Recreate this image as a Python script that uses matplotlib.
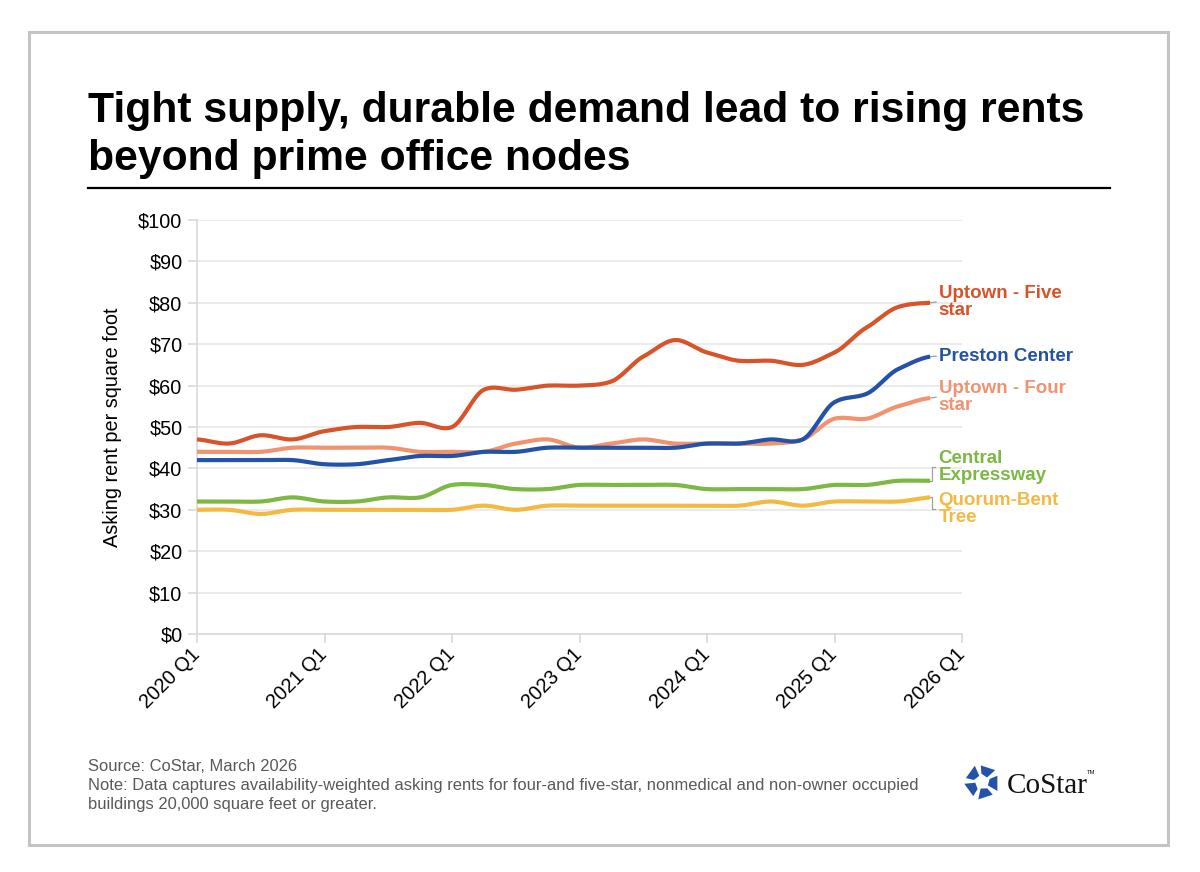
import matplotlib
matplotlib.use("Agg")
import matplotlib.pyplot as plt
import numpy as np
from matplotlib.patches import Rectangle, Polygon
from matplotlib.lines import Line2D

plt.rcParams['font.family'] = ['Liberation Sans', 'DejaVu Sans']

# quarterly asking rents, 2020 Q1 .. 2025 Q4
five_star = [47, 46, 48, 47, 49, 50, 50, 51, 50, 59, 59, 60,
             60, 61, 67, 71, 68, 66, 66, 65, 68, 74, 79, 80]
four_star = [44, 44, 44, 45, 45, 45, 45, 44, 44, 44, 46, 47,
             45, 46, 47, 46, 46, 46, 46, 47, 52, 52, 55, 57]
preston = [42, 42, 42, 42, 41, 41, 42, 43, 43, 44, 44, 45,
           45, 45, 45, 45, 46, 46, 47, 47, 56, 58, 64, 67]
central = [32, 32, 32, 33, 32, 32, 33, 33, 36, 36, 35, 35,
           36, 36, 36, 36, 35, 35, 35, 35, 36, 36, 37, 37]
quorum = [30, 30, 29, 30, 30, 30, 30, 30, 30, 31, 30, 31,
          31, 31, 31, 31, 31, 31, 32, 31, 32, 32, 32, 33]

series_names = ['Uptown - Five\nstar', 'Preston Center', 'Uptown - Four\nstar',
                'Central\nExpressway', 'Quorum-Bent\nTree']
series_values = [five_star, preston, four_star, central, quorum]
series_colors = ['#D9532A', '#2452A8', '#F0936E', '#7CB843', '#F4B942']
draw_order = [4, 3, 2, 1, 0]
label_y = [80.2, 67.1, 57.2, 40.3, 30.2]   # where the end labels sit
bracket = [False, False, False, True, True]

tick_labels = ['2020 Q1', '2021 Q1', '2022 Q1', '2023 Q1', '2024 Q1', '2025 Q1', '2026 Q1']
y_ticks = list(range(0, 101, 10))

W, H = 1200, 872


def smooth(ys, n=20, s=0.8):
    # cardinal spline through the points (like a spreadsheet "smoothed line")
    ys = list(ys)
    m = len(ys)
    tang = []
    for i in range(m):
        a = ys[i - 1] if i > 0 else ys[i]
        b = ys[i + 1] if i + 1 < m else ys[i]
        tang.append(s * (b - a) / 2.0)
    xs_out, ys_out = [], []
    t = np.linspace(0, 1, n, endpoint=False)
    h00 = 2 * t ** 3 - 3 * t ** 2 + 1
    h10 = t ** 3 - 2 * t ** 2 + t
    h01 = -2 * t ** 3 + 3 * t ** 2
    h11 = t ** 3 - t ** 2
    for i in range(m - 1):
        y = h00 * ys[i] + h10 * tang[i] + h01 * ys[i + 1] + h11 * tang[i + 1]
        xs_out.extend(i + t)
        ys_out.extend(y)
    xs_out.append(m - 1)
    ys_out.append(ys[-1])
    return np.array(xs_out), np.array(ys_out)


fig = plt.figure(figsize=(W / 100, H / 100), dpi=100)

# outer frame
fig.patches.append(Rectangle((29 / W, 1 - 845 / H), (1168 - 29) / W, (845 - 32) / H,
                             transform=fig.transFigure, fill=False,
                             edgecolor='#c4c4c4', linewidth=2.2))

# title and rule
fig.text(88 / W, 1 - 122 / H, 'Tight supply, durable demand lead to rising rents',
         fontsize=30.7, fontweight='bold', va='baseline', ha='left')
fig.text(88 / W, 1 - 170 / H, 'beyond prime office nodes',
         fontsize=30.7, fontweight='bold', va='baseline', ha='left')
fig.add_artist(Line2D([88 / W, 1110 / W], [1 - 188 / H, 1 - 188 / H],
                      transform=fig.transFigure, color='black', linewidth=1.6))

ax = fig.add_axes([197 / W, 1 - 634 / H, (962 - 197) / W, (634 - 220) / H])
ax.set_xlim(0, 24)
ax.set_ylim(0, 100)

for k in draw_order:
    sx, sy = smooth(series_values[k])
    ax.plot(sx, sy, color=series_colors[k], linewidth=3, solid_capstyle='butt',
            zorder=3, clip_on=False)

ax.set_yticks(y_ticks)
ax.set_yticklabels(['$%d' % v for v in y_ticks], fontsize=14.3)
ax.set_xticks(range(0, 25, 4))
ax.set_xticklabels(tick_labels, fontsize=14.3, rotation=45, ha='right', va='center',
                   rotation_mode='anchor')
ax.tick_params(axis='both', color='#d9d9d9', length=6.5, width=1.2)
ax.tick_params(axis='y', pad=4)
ax.tick_params(axis='x', pad=6)
ax.grid(axis='y', color='#e8e8e8', linewidth=1.2)
ax.set_axisbelow(True)
for s in ['top', 'right']:
    ax.spines[s].set_visible(False)
for s in ['left', 'bottom']:
    ax.spines[s].set_color('#d9d9d9')
    ax.spines[s].set_linewidth(1.2)

fig.text(112 / W, 1 - 427 / H, 'Asking rent per square foot', rotation=90,
         fontsize=14.3, ha='center', va='center')

# end labels with leader lines
px_q = (962 - 197) / 24.0
x_end = len(five_star) - 1
for name, vals, col, ly, br in zip(series_names, series_values, series_colors, label_y, bracket):
    yv = vals[-1]
    if br:
        xb = x_end + 2 / px_q
        ax.plot([x_end, xb, xb, xb + 3 / px_q], [yv, yv, ly, ly],
                color='#a0a0a0', linewidth=0.9, clip_on=False, zorder=2)
    else:
        ax.plot([x_end, x_end + 6 / px_q], [yv, ly], color='#a0a0a0',
                linewidth=0.9, clip_on=False, zorder=2)
    ax.text(x_end + 8.5 / px_q, ly, name, color=col, fontsize=13.5, fontweight='bold',
            ha='left', va='center', linespacing=0.97, clip_on=False)

# footer
foot_col = '#595959'
foot_size = 11.85
fig.text(88 / W, 1 - 771 / H, 'Source: CoStar, March 2026', fontsize=foot_size,
         color=foot_col, va='baseline')
fig.text(88 / W, 1 - 790 / H, 'Note: Data captures availability-weighted asking rents for '
         'four-and five-star, nonmedical and non-owner occupied', fontsize=foot_size,
         color=foot_col, va='baseline')
fig.text(88 / W, 1 - 809 / H, 'buildings 20,000 square feet or greater.', fontsize=foot_size,
         color=foot_col, va='baseline')

# CoStar logo: five tiles around a pentagon
cx, cy, R = 982, 782, 19
c = np.array([cx, cy])
verts = []
for k in range(5):
    a = np.deg2rad(108 + 72 * k)
    verts.append(np.array([cx + R * np.cos(a), cy - R * np.sin(a)]))
for k in range(5):
    v0 = verts[k]
    v1 = verts[(k + 1) % 5]
    p1 = v0 + 0.10 * (v1 - v0)
    p2 = v0 + 0.78 * (v1 - v0)
    p3 = p2 + 0.50 * (c - p2)
    p4 = p1 + 0.62 * (c - p1)
    pts = [(p[0] / W, 1 - p[1] / H) for p in [p1, p2, p3, p4]]
    fig.patches.append(Polygon(pts, closed=True, transform=fig.transFigure,
                               facecolor='#2452A8', edgecolor='none'))
fig.text(1007 / W, 1 - 793 / H, 'CoStar', fontsize=21, family=['Liberation Serif'],
         va='baseline', ha='left', color='#111111')
fig.text(1087 / W, 1 - 774 / H, 'TM', fontsize=4.2, va='baseline', ha='left', color='#111111')

fig.savefig('out.png', dpi=100, facecolor='white')
